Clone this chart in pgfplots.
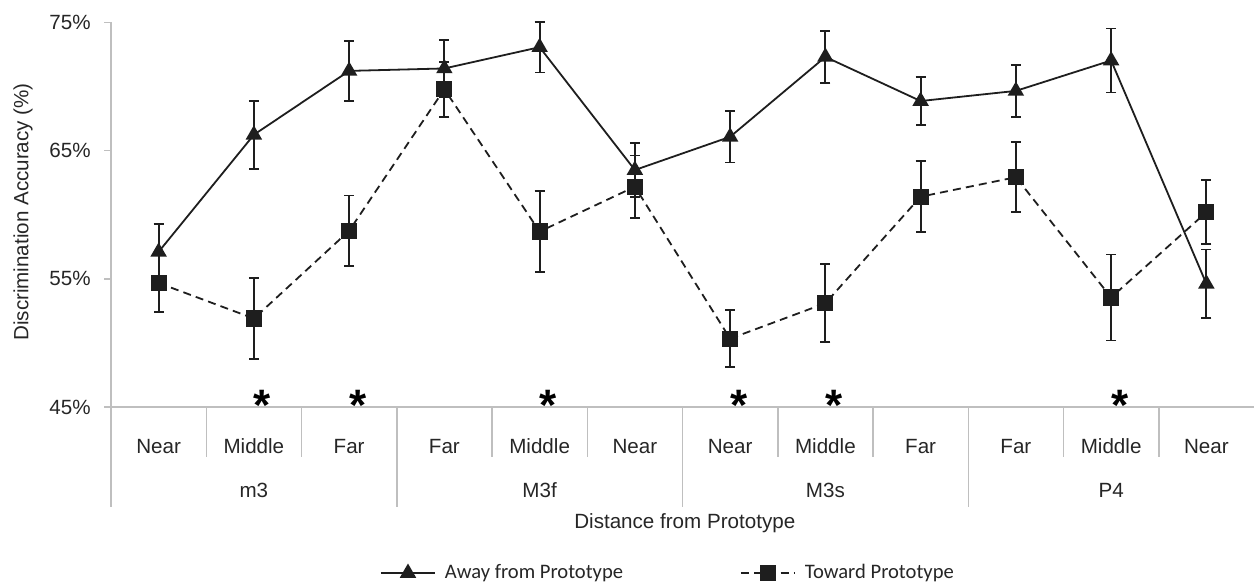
\documentclass[border=0pt]{standalone}
\usepackage{fontspec}
\setmainfont{Liberation Sans}
\newfontfamily\legendfont{Carlito}
\usepackage{pgfplots}
\pgfplotsset{compat=1.18}
\definecolor{axgray}{HTML}{BFBFBF}
\definecolor{ink}{HTML}{1E1E1E}
\definecolor{txt}{HTML}{262626}
\newcommand{\lblfont}{\fontsize{10.3bp}{12bp}\selectfont}
\begin{document}
\begin{tikzpicture}
\useasboundingbox (0,0) rectangle (627bp,292.5bp);
\begin{axis}[
  at={(55.5bp,89bp)}, anchor=south west,
  scale only axis, width=571.5bp, height=192.35bp,
  xmin=-0.5, xmax=11.5, ymin=45, ymax=75,
  clip=false,
  axis x line*=bottom, axis y line*=left,
  axis line style={axgray, line width=0.75bp},
  ytick={45,55,65,75},
  yticklabels={45\%,55\%,65\%,75\%},
  tick align=outside,
  major tick length=3.5bp,
  ytick style={axgray, line width=0.75bp},
  yticklabel style={font=\lblfont, text=txt, inner sep=0pt, xshift=-6.5bp},
  xtick={0,...,11},
  xticklabels={Near,Middle,Far,Far,Middle,Near,Near,Middle,Far,Far,Middle,Near},
  xtick style={draw=none},
  xticklabel style={font=\lblfont, text=txt, anchor=base, inner sep=0pt, yshift=-19.7bp},
  ylabel={Discrimination Accuracy (\%)},
  ylabel style={font=\lblfont, text=txt, at={(axis description cs:-0.077,0.507)}, anchor=center},
  xlabel={Distance from Prototype},
  xlabel style={font=\lblfont, text=txt, at={(axis description cs:0.502,-0.3015)}, anchor=center},
  legend columns=2,
  legend style={at={(axis description cs:0.4864,-0.4315)}, anchor=center, draw=none, fill=none,
    font=\legendfont\fontsize{10.3bp}{12bp}\selectfont, text=txt,
    /tikz/every even column/.append style={column sep=58.5bp},
    /tikz/every odd column/.append style={column sep=4.5bp},
    nodes={inner sep=0pt}},
  legend cell align=left,
  legend image code/.code={\draw[mark repeat=2,mark phase=2,#1] plot coordinates {(0bp,0bp) (13.5bp,0bp) (27bp,0bp)};},
]
% Away from Prototype
\addplot[ink, line width=0.9bp, mark=triangle*, mark size=3.85bp, mark options={solid, fill=ink},
  error bars/.cd, y dir=both, y explicit,
  error bar style={ink, line width=0.9bp, solid},
  error mark=-,
  error mark options={rotate=90, ink, line width=0.9bp, mark size=2.5bp, solid}]
coordinates {
 (0,57.1) +- (0,2.2)
 (1,66.23) +- (0,2.65)
 (2,71.21) +- (0,2.33)
 (3,71.4) +- (0,2.24)
 (4,73.06) +- (0,1.97)
 (5,63.48) +- (0,2.1)
 (6,66.07) +- (0,2.0)
 (7,72.30) +- (0,2.05)
 (8,68.86) +- (0,1.9)
 (9,69.65) +- (0,2.04)
 (10,72.02) +- (0,2.5)
 (11,54.61) +- (0,2.67)
};
\addlegendentry{Away from Prototype}
% Toward Prototype
\addplot[ink, line width=0.9bp, dash pattern=on 4bp off 2.6bp, mark=square*, mark size=3.6bp, mark options={solid, fill=ink},
  error bars/.cd, y dir=both, y explicit,
  error bar style={ink, line width=0.9bp, solid},
  error mark=-,
  error mark options={rotate=90, ink, line width=0.9bp, mark size=2.5bp, solid}]
coordinates {
 (0,54.67) +- (0,2.27)
 (1,51.9) +- (0,3.16)
 (2,58.74) +- (0,2.76)
 (3,69.78) +- (0,2.15)
 (4,58.68) +- (0,3.15)
 (5,62.18) +- (0,2.44)
 (6,50.33) +- (0,2.21)
 (7,53.09) +- (0,3.04)
 (8,61.40) +- (0,2.77)
 (9,62.92) +- (0,2.73)
 (10,53.54) +- (0,3.35)
 (11,60.19) +- (0,2.5)
};
\addlegendentry{Toward Prototype}
% significance asterisks
\addplot[draw=none, mark=none, forget plot,
  nodes near coords={\bfseries *},
  nodes near coords style={font=\fontsize{22bp}{22bp}\selectfont, text=black, anchor=base, inner sep=0pt, yshift=-6.8bp, xshift=4.3bp}]
coordinates {(1,45) (2,45) (4,45) (6,45) (7,45) (10,45)};
% category grid
\pgfplotsinvokeforeach{0.5,1.5,3.5,4.5,6.5,7.5,9.5,10.5}{
  \draw[axgray, line width=0.75bp] (axis cs:#1,45) -- ++(0bp,-25bp);
}
\pgfplotsinvokeforeach{-0.5,2.5,5.5,8.5}{
  \draw[axgray, line width=0.75bp] (axis cs:#1,45) -- ++(0bp,-50bp);
}
\node[font=\lblfont, text=txt, anchor=base, inner sep=0pt] at (axis cs:1,45) [yshift=-45.2bp] {m3};
\node[font=\lblfont, text=txt, anchor=base, inner sep=0pt] at (axis cs:4,45) [yshift=-45.2bp] {M3f};
\node[font=\lblfont, text=txt, anchor=base, inner sep=0pt] at (axis cs:7,45) [yshift=-45.2bp] {M3s};
\node[font=\lblfont, text=txt, anchor=base, inner sep=0pt] at (axis cs:10,45) [yshift=-45.2bp] {P4};
\end{axis}
\end{tikzpicture}
\end{document}
